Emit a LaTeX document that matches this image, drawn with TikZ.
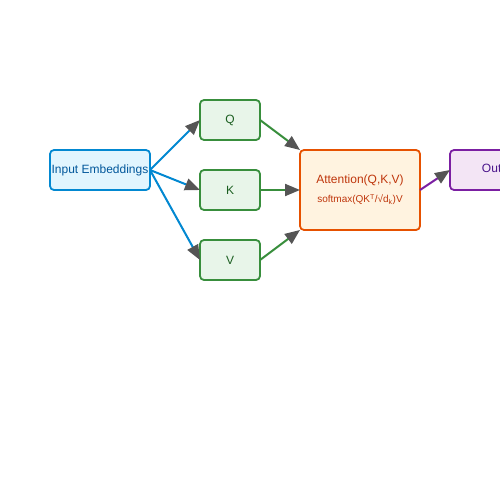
\documentclass[tikz,border=0pt]{standalone}
\usepackage{fontspec}
\setmainfont{Liberation Sans}
\usetikzlibrary{
  arrows.meta,
  positioning,
}
\definecolor{inblue}{HTML}{0288D1}
\definecolor{inblueBg}{HTML}{E1F5FE}
\definecolor{inblueTx}{HTML}{01579B}
\definecolor{qkvgreen}{HTML}{388E3C}
\definecolor{qkvgreenBg}{HTML}{E8F5E9}
\definecolor{qkvgreenTx}{HTML}{1B5E20}
\definecolor{attorange}{HTML}{E65100}
\definecolor{attorangeBg}{HTML}{FFF3E0}
\definecolor{attorangeTx}{HTML}{BF360C}
\definecolor{outpurple}{HTML}{7B1FA2}
\definecolor{outpurpleBg}{HTML}{F3E5F5}
\definecolor{outpurpleTx}{HTML}{4A148C}
\definecolor{tipgray}{HTML}{555555}
\tikzstyle{box} = [
  rectangle,
  rounded corners=4pt,
  line width=1.8pt,
  inner sep=0pt,
  outer sep=0pt,
  font=\fontsize{12}{14}\selectfont,
]
\tikzstyle{arrow} = [
  -{Triangle[length=15pt,width=12pt,color=tipgray]},
  line width=2pt,
]

\begin{document}
\begin{tikzpicture}[x=1pt,y=1pt,node distance=30pt and 50pt]

        \useasboundingbox (0,0) rectangle (500,-500);
        \clip (0,0) rectangle (500,-500);

        \node[box,draw=inblue,fill=inblueBg,text=inblueTx,minimum width=100,minimum height=40] (inemb) at (100,-170) {Input Embeddings};
        \node[box,draw=qkvgreen,fill=qkvgreenBg,text=qkvgreenTx,minimum width=60,minimum height=40] (k) [right=50pt of inemb.east, anchor=south west, yshift=-40pt] {K};
        \node[box,draw=qkvgreen,fill=qkvgreenBg,text=qkvgreenTx,minimum width=60,minimum height=40] (q) [above=of k] {Q};
        \node[box,draw=qkvgreen,fill=qkvgreenBg,text=qkvgreenTx,minimum width=60,minimum height=40] (v) [below=of k] {V};
        \node[box,draw=attorange,fill=attorangeBg,text=attorangeTx,minimum width=120,minimum height=80,align=center] (att) [right=40pt of k] {Attention(Q,K,V)\\[5pt]{\fontsize{10}{12}\selectfont softmax(QK\textsuperscript{T}/√d\textsubscript{k})V}};
        \node[box,draw=outpurple,fill=outpurpleBg,text=outpurpleTx,minimum width=100,minimum height=40,anchor=south west] (out) at ([xshift=30pt]att.east) {Output};

        \draw[arrow,inblue] (inemb.east) -- (q.west);
        \draw[arrow,inblue] (inemb.east) -- (k.west);
        \draw[arrow,inblue] (inemb.east) -- (v.west);
        \draw[arrow,qkvgreen] (q.east) -- (att.north west);
        \draw[arrow,qkvgreen] (k.east) -- (att.west);
        \draw[arrow,qkvgreen] (v.east) -- (att.south west);
        \draw[arrow,outpurple] (att.east) -- (out.west);

      \end{tikzpicture}
\end{document}
